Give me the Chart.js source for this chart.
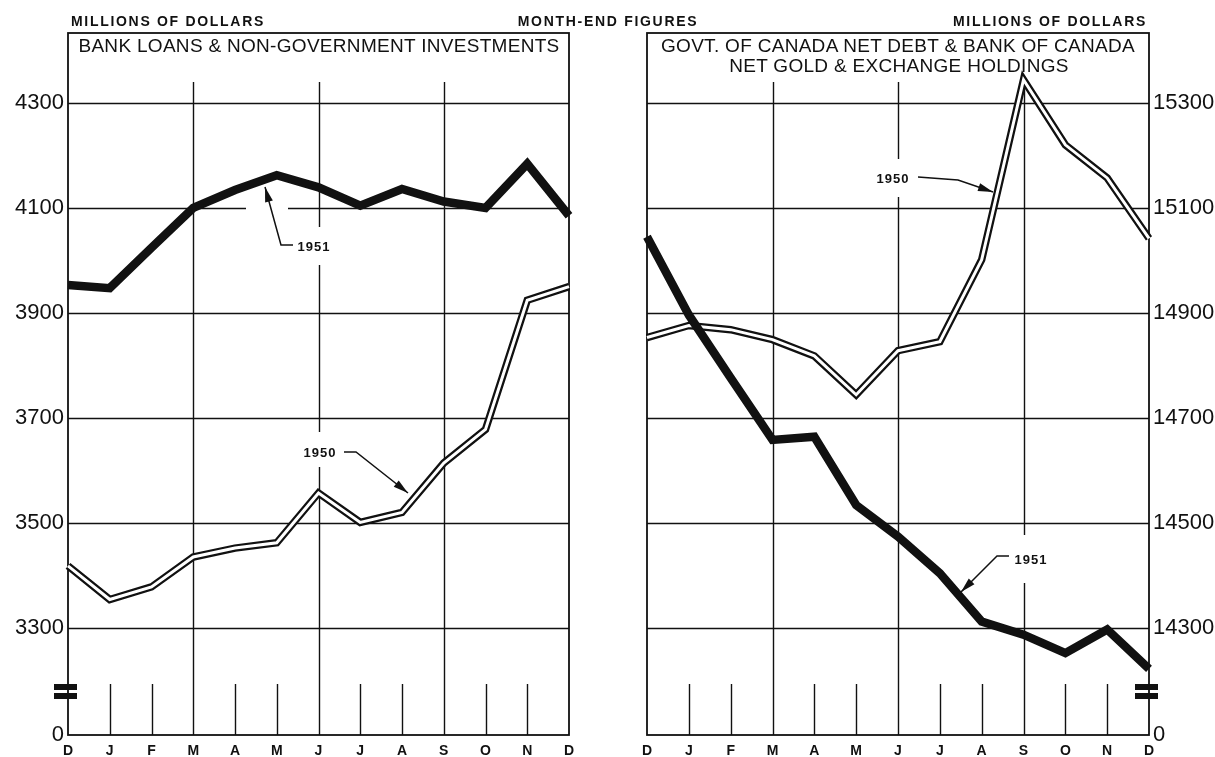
<!DOCTYPE html>
<html>
<head>
<meta charset="utf-8">
<script src="https://cdn.jsdelivr.net/npm/chart.js@4.4.1/dist/chart.umd.min.js"></script>
<style>
	body { margin: 0; background: #fff; }
	#page { position: relative; width: 1215px; height: 757px; overflow: hidden; background: #fff; }
	canvas { position: absolute; top: 0; }
	.lbl {
		position: absolute; transform: translate(-50%, -50%); white-space: nowrap; line-height: 1;
		color: #111; font-family: 'Liberation Sans', Arial, sans-serif;
	}
	.hdr { font-size: 14px; font-weight: bold; letter-spacing: 1.7px; }
	.ttl { font-size: 19px; letter-spacing: 0.3px; }
	.note { font-size: 13px; font-weight: bold; letter-spacing: 1px; }
</style>
</head>
<body>
<div id="page">
	<canvas id="loansChart" width="607" height="757" style="left:0"></canvas>
	<canvas id="debtChart" width="608" height="757" style="left:607px"></canvas>

	<div class="lbl hdr" style="left:168px;top:21px">MILLIONS OF DOLLARS</div>
	<div class="lbl hdr" style="left:608px;top:21px">MONTH-END FIGURES</div>
	<div class="lbl hdr" style="left:1050px;top:21px">MILLIONS OF DOLLARS</div>

	<div class="lbl ttl" style="left:319px;top:45px">BANK LOANS &amp; NON-GOVERNMENT INVESTMENTS</div>
	<div class="lbl ttl" style="left:898px;top:45px">GOVT. OF CANADA NET DEBT &amp; BANK OF CANADA</div>
	<div class="lbl ttl" style="left:899px;top:65px">NET GOLD &amp; EXCHANGE HOLDINGS</div>

	<div class="lbl note" style="left:314px;top:246px">1951</div>
	<div class="lbl note" style="left:320px;top:452px">1950</div>
	<div class="lbl note" style="left:893px;top:178px">1950</div>
	<div class="lbl note" style="left:1031px;top:559px">1951</div>
</div>
<script>
// month-end figures, December through December
const months = ['D', 'J', 'F', 'M', 'A', 'M', 'J', 'J', 'A', 'S', 'O', 'N', 'D'];

const loans1950 = [3418, 3354, 3378, 3435, 3452, 3462, 3557, 3501, 3520, 3614, 3678, 3924, 3950];
const loans1951 = [3953, 3947, 4024, 4100, 4134, 4162, 4139, 4104, 4136, 4112, 4100, 4184, 4085];
const loansTicks = [3300, 3500, 3700, 3900, 4100, 4300];

const debt1950 = [14853, 14876, 14868, 14849, 14818, 14744, 14828, 14845, 15001, 15344, 15220, 15157, 15042];
const debt1951 = [15045, 14896, 14776, 14658, 14664, 14534, 14474, 14404, 14312, 14287, 14252, 14297, 14222];
const debtTicks = [14300, 14500, 14700, 14900, 15100, 15300];

const ink = '#111';
const font = "'Liberation Sans', Arial, sans-serif";

function arrow(ctx, pts) {
	ctx.beginPath();
	ctx.moveTo(pts[0][0], pts[0][1]);
	for (let i = 1; i < pts.length; i++) ctx.lineTo(pts[i][0], pts[i][1]);
	ctx.stroke();
	// arrow head on last segment
	const [x1, y1] = pts[pts.length - 2];
	const [x2, y2] = pts[pts.length - 1];
	const a = Math.atan2(y2 - y1, x2 - x1);
	const len = 15, w = 4;
	const bx = x2 - len * Math.cos(a), by = y2 - len * Math.sin(a);
	ctx.beginPath();
	ctx.moveTo(x2, y2);
	ctx.lineTo(bx + w * Math.sin(a), by - w * Math.cos(a));
	ctx.lineTo(bx - w * Math.sin(a), by + w * Math.cos(a));
	ctx.closePath();
	ctx.fill();
}

// grid, frame, gaps behind labels, break marks and leader arrows
function paperPlugin(ticks, gaps, breakX, arrows) {
	return {
		id: 'paper',
		beforeDatasetsDraw(chart) {
			const ctx = chart.ctx;
			const { left, right, top, bottom } = chart.chartArea;
			const xs = chart.scales.x, ys = chart.scales.y;
			ctx.save();
			ctx.strokeStyle = ink;
			ctx.lineWidth = 1.4;
			ctx.beginPath();
			ticks.forEach(v => {
				const y = Math.round(ys.getPixelForValue(v)) + 0.5;
				ctx.moveTo(left, y);
				ctx.lineTo(right, y);
			});
			for (let i = 1; i < months.length - 1; i++) {
				const x = Math.round(xs.getPixelForValue(i)) + 0.5;
				if (i % 3 === 0) {
					ctx.moveTo(x, top + 49);
				} else {
					ctx.moveTo(x, bottom - 51);
				}
				ctx.lineTo(x, bottom);
			}
			ctx.stroke();
			ctx.fillStyle = '#fff';
			gaps.forEach(g => ctx.fillRect(g[0], g[1], g[2], g[3]));
			ctx.lineWidth = 1.8;
			ctx.strokeRect(left, top, right - left, bottom - top);
			ctx.restore();
		},
		afterDraw(chart) {
			const ctx = chart.ctx;
			ctx.save();
			ctx.fillStyle = ink;
			ctx.strokeStyle = ink;
			ctx.fillRect(breakX, 684, 23, 6);
			ctx.fillRect(breakX, 693, 23, 6);
			ctx.lineWidth = 1.5;
			arrows.forEach(p => arrow(ctx, p));
			ctx.restore();
		}
	};
}

function makeChart(id, y1950, y1951, yMin, yMax, yTicks, side, pad, yWidth, plugin) {
	const ctx = document.getElementById(id).getContext('2d');
	return new Chart(ctx, {
		type: 'line',
		data: {
			labels: months,
			datasets: [
				{ label: '1951', data: y1951, borderColor: ink, borderWidth: 8.5, order: 0 },
				{ label: '1950', data: y1950, borderColor: '#fff', borderWidth: 3, order: 1 },
				{ label: '1950 edge', data: y1950, borderColor: ink, borderWidth: 7.5, order: 2 }
			]
		},
		options: {
			responsive: false,
			animation: false,
			elements: {
				point: { radius: 0 },
				line: { tension: 0, borderJoinStyle: 'miter', borderCapStyle: 'butt' }
			},
			layout: { padding: pad },
			plugins: { legend: { display: false }, tooltip: { enabled: false } },
			scales: {
				x: {
					type: 'category',
					offset: false,
					grid: { display: false },
					border: { display: false },
					ticks: {
						color: ink, autoSkip: false, maxRotation: 0, padding: 0,
						font: { family: font, size: 14, weight: 'bold' }
					},
					afterFit: s => { s.height = 22; }
				},
				y: {
					position: side,
					min: yMin,
					max: yMax,
					grid: { display: false, drawTicks: false },
					border: { display: false },
					afterBuildTicks: s => { s.ticks = [yMin].concat(yTicks).map(v => ({ value: v })); },
					ticks: {
						color: ink, padding: 4,
						font: { family: font, size: 22 },
						callback: v => (v === yMin ? '0' : String(v))
					},
					afterFit: s => { s.width = yWidth; }
				}
			}
		},
		plugins: [plugin]
	});
}

makeChart('loansChart', loans1950, loans1951, 3096, 4433, loansTicks, 'left',
	{ left: 0, right: 38, top: 33, bottom: 0 }, 68,
	paperPlugin(loansTicks,
		[[246, 202, 42, 10], [315, 227, 10, 38], [315, 432, 10, 35]],
		54,
		[[[293, 245], [281, 245], [265, 187]], [[344, 452], [356, 452], [408, 493]]]));

makeChart('debtChart', debt1950, debt1951, 14096, 15433, debtTicks, 'right',
	{ left: 40, right: 0, top: 33, bottom: 0 }, 66,
	paperPlugin(debtTicks,
		[[286, 159, 10, 38], [411, 535, 10, 48]],
		528,
		[[[311, 177], [351, 180], [386, 192]], [[402, 556], [390, 556], [354, 592]]]));
</script>
</body>
</html>
